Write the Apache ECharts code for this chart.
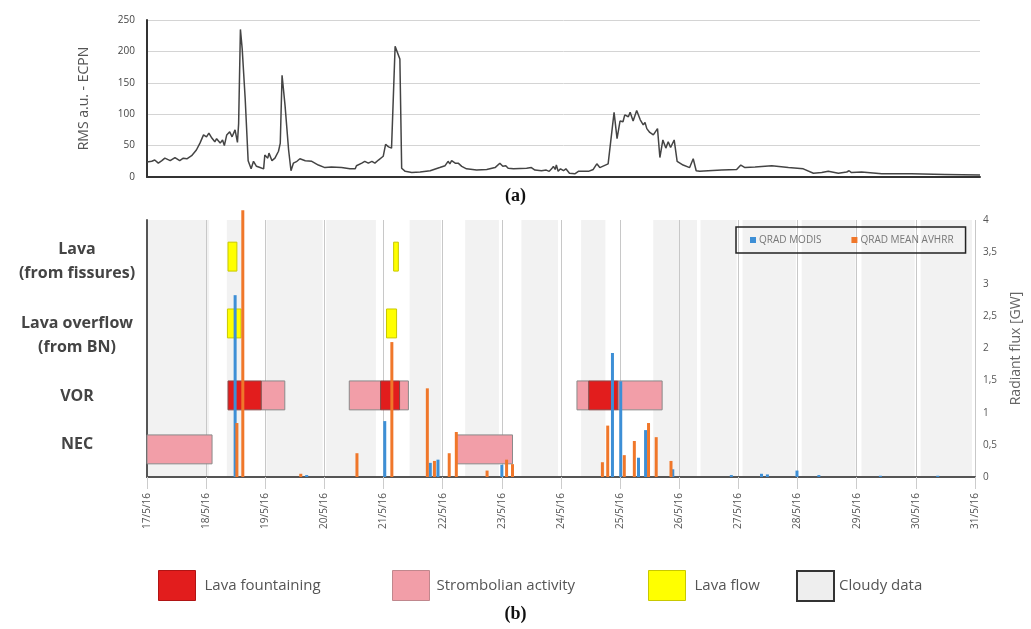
<!DOCTYPE html>
<html>
<head>
<meta charset="utf-8">
<title>RMS ECPN and radiant flux, 17-31 May 2016</title>
<script src="https://cdn.jsdelivr.net/npm/echarts@6/dist/echarts.min.js"></script>
<style>
  html, body { margin: 0; padding: 0; background: #fff; }
  #chart { width: 1031px; height: 629px; }
</style>
</head>
<body>
<div id="chart"></div>
<script>
// (a) tremor RMS at ECPN, day of May 2016 -> value
const rmsDays = [
  17.00, 17.02, 17.08, 17.13, 17.19, 17.25, 17.30, 17.39, 17.47, 17.55, 17.61, 17.67, 17.75, 17.83, 17.89, 17.95,
  18.00, 18.04, 18.09, 18.14, 18.17, 18.23, 18.27, 18.30, 18.34, 18.39, 18.43, 18.48, 18.52, 18.54, 18.57, 18.60,
  18.65, 18.70, 18.75, 18.79, 18.84, 18.90, 18.96, 18.98,
  19.03, 19.05, 19.10, 19.15, 19.21, 19.24, 19.27, 19.32, 19.38, 19.42, 19.46, 19.52, 19.57, 19.66, 19.77, 19.88, 19.99,
  20.10, 20.27, 20.41, 20.50, 20.52, 20.61, 20.66, 20.72, 20.78, 20.83, 20.89, 20.97,
  21.01, 21.06, 21.11, 21.17, 21.25, 21.28, 21.34, 21.45, 21.59, 21.76, 21.92,
  22.01, 22.06, 22.09, 22.12, 22.18, 22.23, 22.29, 22.37, 22.54, 22.71, 22.85, 22.93, 22.98,
  23.03, 23.07, 23.16, 23.38, 23.46, 23.52, 23.63, 23.71, 23.73, 23.76, 23.80, 23.83, 23.86, 23.88, 23.91, 23.95,
  24.00, 24.04, 24.10, 24.19, 24.25, 24.42, 24.50, 24.56, 24.61, 24.75, 24.85, 24.90, 24.95,
  25.00, 25.03, 25.09, 25.12, 25.17, 25.23, 25.29, 25.34, 25.37, 25.40, 25.45, 25.51, 25.58, 25.62, 25.67, 25.72,
  25.76, 25.80, 25.86, 25.91,
  26.01, 26.12, 26.18, 26.23, 26.29, 26.43, 26.66, 26.91, 26.98,
  27.05, 27.22, 27.50, 27.78,
  28.03, 28.20, 28.34, 28.45, 28.62, 28.76, 28.80, 28.84,
  29.01, 29.35, 29.85, 30.41, 31.00
];
const rmsValues = [
  24, 26, 25, 27, 22, 26, 30, 26, 31, 26, 30, 29, 34, 43, 54, 67,
  64, 70, 62, 56, 61, 54, 59, 50, 67, 72, 64, 75, 55, 85, 235, 204,
  125, 26, 13, 25, 17, 15, 13, 35,
  30, 38, 26, 30, 41, 54, 162, 114, 43, 10, 22, 25, 29, 26, 25, 19, 15,
  16, 15, 13, 13, 18, 22, 25, 22, 25, 22, 27, 33,
  52, 48, 46, 208, 188, 14, 9, 7, 8, 10, 15,
  18, 25, 21, 26, 22, 22, 17, 13, 11, 12, 15, 22, 17,
  18, 14, 13, 14, 15, 11, 10, 11, 14, 9, 13, 17, 12, 19, 9, 13,
  10, 13, 6, 5, 9, 9, 12, 21, 15, 21, 103, 61, 89,
  88, 99, 96, 103, 89, 106, 91, 83, 87, 77, 71, 67, 77, 31, 59, 46,
  56, 47, 59, 25,
  19, 15, 29, 10, 9, 10, 11, 12, 19,
  15, 16, 18, 15,
  13, 6, 7, 9, 6, 8, 10, 7,
  8, 5, 5, 4, 3
];

// (b) radiant flux [GW]
const modisDays = [18.49, 19.70, 21.02, 21.79, 21.92, 23.00, 24.87, 25.01, 25.31, 25.43, 25.89,
  26.88, 27.39, 27.49, 27.99, 28.36, 29.40, 30.37];
const modisValues = [2.83, 0.03, 0.87, 0.22, 0.27, 0.19, 1.93, 1.49, 0.30, 0.73, 0.12,
  0.03, 0.05, 0.04, 0.10, 0.03, 0.02, 0.02];
const avhrrDays = [18.52, 18.62, 19.60, 20.55, 21.14, 21.74, 21.86, 22.11, 22.23, 22.75, 23.08, 23.18,
  24.70, 24.79, 25.07, 25.24, 25.48, 25.61, 25.86];
const avhrrValues = [0.84, 4.15, 0.05, 0.37, 2.10, 1.38, 0.25, 0.37, 0.70, 0.10, 0.27, 0.20,
  0.23, 0.80, 0.34, 0.56, 0.84, 0.62, 0.25];

// activity periods: [row, start day, end day]
const activityRows = ['Lava\n(from fissures)', 'Lava overflow\n(from BN)', 'VOR', 'NEC'];
const lavaFlow = [[0, 18.37, 18.52], [0, 21.17, 21.25], [1, 18.36, 18.59], [1, 21.05, 21.22]];
const fountaining = [[2, 18.37, 18.93], [2, 20.95, 21.27], [2, 24.47, 24.96]];
const strombolian = [[2, 18.93, 19.33], [2, 20.42, 20.95], [2, 21.27, 21.42], [2, 24.27, 24.47],
  [2, 24.96, 25.71], [3, 17.00, 18.10], [3, 22.23, 23.18]];

// cloudy satellite data, day ranges
const cloudyStart = [17.00, 18.35, 19.02, 20.03, 21.44, 22.38, 23.33, 24.34, 25.56, 26.36, 27.07, 28.07, 29.08, 30.08];
const cloudyEnd = [18.05, 18.62, 19.97, 20.87, 21.97, 22.95, 23.95, 24.75, 26.30, 26.97, 27.97, 28.98, 29.98, 30.95];

const dayLabels = ['17/5/16', '18/5/16', '19/5/16', '20/5/16', '21/5/16', '22/5/16', '23/5/16', '24/5/16',
  '25/5/16', '26/5/16', '27/5/16', '28/5/16', '29/5/16', '30/5/16', '31/5/16'];

// layout: row levels on the hidden 0-4 activity axis
const rowCenter = [3.43, 2.39, 1.27, 0.43];
const rowLabelLevel = [3.36, 2.2, 1.25, 0.50];
const rowHalf = 0.225;

const FONT = '"Open Sans", "DejaVu Sans", sans-serif';
const C_FOUNT = '#e21d1d';
const C_STROMB = '#f29ea8';
const C_LAVA = '#ffff00';
const C_CLOUD = '#f2f2f2';

function boxItem(fill, stroke) {
  return function (params, api) {
    const row = api.value(0);
    const p0 = api.coord([api.value(1), rowCenter[row] + rowHalf]);
    const p1 = api.coord([api.value(2), rowCenter[row] - rowHalf]);
    return {
      type: 'rect',
      shape: { x: p0[0], y: p0[1], width: p1[0] - p0[0], height: p1[1] - p0[1] },
      style: { fill: fill, stroke: stroke, lineWidth: 1 }
    };
  };
}

const chart = echarts.init(document.getElementById('chart'));

chart.setOption({
  animation: false,
  textStyle: { fontFamily: FONT },
  title: [
    {
      text: '{p|(}{b|a}{p|)}', left: 'center', top: 182,
      textStyle: { rich: {
        p: { fontFamily: '"Liberation Serif", serif', fontSize: 18, color: '#111' },
        b: { fontFamily: '"Liberation Serif", serif', fontSize: 18, fontWeight: 'bold', color: '#111' }
      } }
    },
    {
      text: '{p|(}{b|b}{p|)}', left: 'center', top: 600,
      textStyle: { rich: {
        p: { fontFamily: '"Liberation Serif", serif', fontSize: 18, color: '#111' },
        b: { fontFamily: '"Liberation Serif", serif', fontSize: 18, fontWeight: 'bold', color: '#111' }
      } }
    }
  ],
  legend: [
    {
      data: ['QRAD MODIS', 'QRAD MEAN AVHRR'],
      left: 736, top: 227, padding: [8, 12, 8, 14],
      borderColor: '#222', borderWidth: 1.5,
      icon: 'rect', itemWidth: 6, itemHeight: 6, itemGap: 30,
      selectedMode: false,
      textStyle: { fontSize: 10, color: '#777', padding: [0, 0, 0, -2] }
    },
    {
      data: [{ name: 'Lava fountaining', icon: 'rect', itemStyle: { color: C_FOUNT, borderColor: '#b01414', borderWidth: 1 } }],
      left: 153, top: 565, itemWidth: 37, itemHeight: 30, selectedMode: false,
      textStyle: { fontSize: 15, color: '#555', padding: [6, 0, 0, 4] }
    },
    {
      data: [{ name: 'Strombolian activity', icon: 'rect', itemStyle: { color: C_STROMB, borderColor: '#c0878d', borderWidth: 1 } }],
      left: 387, top: 565, itemWidth: 37, itemHeight: 30, selectedMode: false,
      textStyle: { fontSize: 15, color: '#555', padding: [6, 0, 0, 2] }
    },
    {
      data: [{ name: 'Lava flow', icon: 'rect', itemStyle: { color: C_LAVA, borderColor: '#c8c800', borderWidth: 1 } }],
      left: 643, top: 565, itemWidth: 37, itemHeight: 30, selectedMode: false,
      textStyle: { fontSize: 15, color: '#555', padding: [12, 0, 0, 4] }
    },
    {
      data: [{ name: 'Cloudy data', icon: 'rect', itemStyle: { color: '#eeeeee', borderColor: '#333', borderWidth: 2 } }],
      left: 791, top: 565, itemWidth: 37, itemHeight: 30, selectedMode: false,
      textStyle: { fontSize: 15, color: '#555', padding: [12, 0, 0, 0] }
    }
  ],
  grid: [
    { left: 147, right: 51, top: 20, bottom: 452 },
    { left: 147, right: 48, top: 220, bottom: 152 }
  ],
  xAxis: [
    {
      gridIndex: 0, type: 'value', min: 17, max: 31,
      axisLine: { lineStyle: { color: '#333', width: 2 } },
      axisTick: { show: false }, axisLabel: { show: false }, splitLine: { show: false }
    },
    {
      gridIndex: 1, type: 'value', min: 17, max: 31, interval: 1, z: 1,
      axisLine: { onZero: false, lineStyle: { color: '#555', width: 2 } },
      axisTick: { length: 12, lineStyle: { color: '#cccccc' } },
      splitLine: { show: true, lineStyle: { color: '#c8c8c8', width: 1 } },
      axisLabel: {
        rotate: 90, margin: 16, fontSize: 10, color: '#555',
        formatter: function (v) { return dayLabels[v - 17]; }
      }
    }
  ],
  yAxis: [
    {
      gridIndex: 0, type: 'value', min: 0, max: 250, interval: 50,
      name: 'RMS a.u. - ECPN', nameLocation: 'middle', nameGap: 56, nameRotate: 90,
      nameTextStyle: { fontSize: 14, color: '#555' },
      axisLine: { show: true, lineStyle: { color: '#333', width: 2 } },
      axisTick: { show: false },
      axisLabel: { fontSize: 10, color: '#444', margin: 12 },
      splitLine: { lineStyle: { color: '#d4d4d4' } }
    },
    {
      gridIndex: 1, type: 'value', min: 0, max: 4, position: 'left', z: 1,
      axisLine: { show: true, lineStyle: { color: '#555', width: 2 } },
      axisTick: { show: false }, axisLabel: { show: false }, splitLine: { show: false }
    },
    {
      gridIndex: 1, type: 'value', min: 0, max: 4, interval: 0.5, position: 'right',
      name: 'Radiant flux [GW]', nameLocation: 'middle', nameGap: 34, nameRotate: 90,
      nameTextStyle: { fontSize: 14, color: '#666' },
      axisLine: { show: false }, axisTick: { show: false }, splitLine: { show: false },
      axisLabel: {
        fontSize: 10, color: '#555', margin: 8,
        formatter: function (v) { return String(v).replace('.', ','); }
      }
    }
  ],
  series: [
    {
      name: 'RMS ECPN', type: 'line', xAxisIndex: 0, yAxisIndex: 0,
      data: rmsDays.map(function (d, i) { return [d, rmsValues[i]]; }),
      showSymbol: false, lineStyle: { color: '#444', width: 1.5 }, itemStyle: { color: '#444' }
    },
    {
      name: 'Cloudy data', type: 'custom', xAxisIndex: 1, yAxisIndex: 1, z: 0, silent: true,
      itemStyle: { color: C_CLOUD, borderColor: '#333', borderWidth: 2 },
      data: cloudyStart.map(function (s, i) { return [s, cloudyEnd[i]]; }),
      encode: { x: [0, 1] },
      renderItem: function (params, api) {
        const p0 = api.coord([api.value(0), 4]);
        const p1 = api.coord([api.value(1), 0]);
        return {
          type: 'rect',
          shape: { x: p0[0], y: p0[1], width: p1[0] - p0[0], height: p1[1] - p0[1] },
          style: { fill: C_CLOUD }
        };
      }
    },
    {
      name: 'Strombolian activity', type: 'custom', xAxisIndex: 1, yAxisIndex: 1, z: 3, silent: true,
      itemStyle: { color: C_STROMB },
      data: strombolian, encode: { x: [1, 2], y: 0 },
      renderItem: boxItem(C_STROMB, '#8a8a8a')
    },
    {
      name: 'Lava fountaining', type: 'custom', xAxisIndex: 1, yAxisIndex: 1, z: 3, silent: true,
      itemStyle: { color: C_FOUNT },
      data: fountaining, encode: { x: [1, 2], y: 0 },
      renderItem: boxItem(C_FOUNT, '#8a4a4a')
    },
    {
      name: 'Lava flow', type: 'custom', xAxisIndex: 1, yAxisIndex: 1, z: 3, silent: true,
      itemStyle: { color: C_LAVA },
      data: lavaFlow, encode: { x: [1, 2], y: 0 },
      renderItem: boxItem(C_LAVA, '#c9c900')
    },
    {
      name: 'QRAD MODIS', type: 'bar', xAxisIndex: 1, yAxisIndex: 2, z: 4,
      barWidth: 3, barGap: '-100%',
      itemStyle: { color: '#3d8fd6' },
      data: modisDays.map(function (d, i) { return [d, modisValues[i]]; })
    },
    {
      name: 'QRAD MEAN AVHRR', type: 'bar', xAxisIndex: 1, yAxisIndex: 2, z: 4,
      barWidth: 3, barGap: '-100%', clip: false,
      itemStyle: { color: '#f0772a' },
      data: avhrrDays.map(function (d, i) { return [d, avhrrValues[i]]; })
    },
    {
      name: 'row labels', type: 'custom', xAxisIndex: 1, yAxisIndex: 1, silent: true,
      data: activityRows.map(function (n, i) { return [i]; }),
      renderItem: function (params, api) {
        const i = params.dataIndex;
        const p = api.coord([17, rowLabelLevel[i]]);
        return {
          type: 'text', x: p[0] - 70, y: p[1],
          style: {
            text: activityRows[i], align: 'center', verticalAlign: 'middle',
            fill: '#444', fontSize: 16, fontWeight: 'bold', fontFamily: FONT, lineHeight: 24
          }
        };
      }
    }
  ]
});
</script>
</body>
</html>
